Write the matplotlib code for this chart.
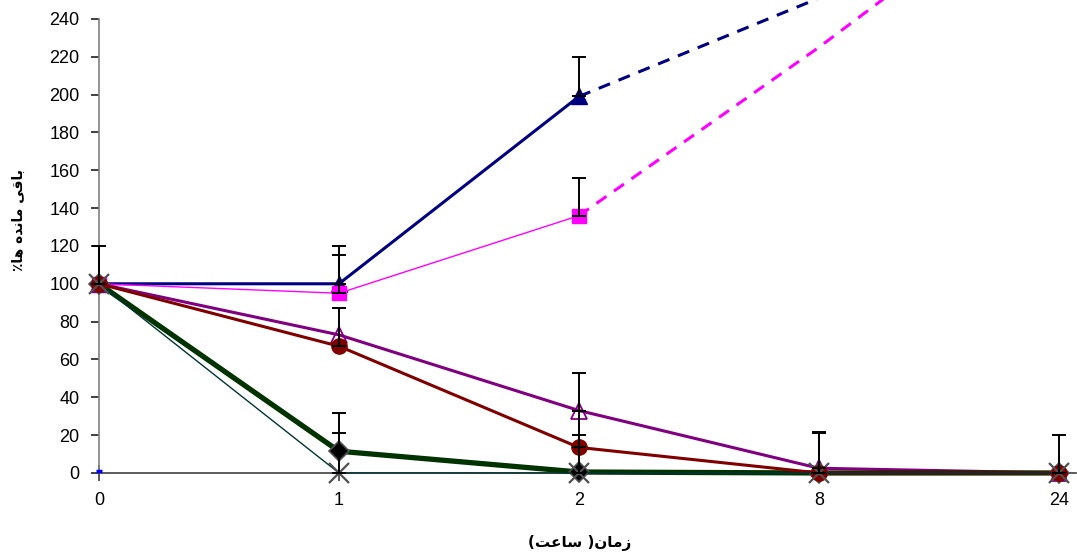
import numpy as np
import matplotlib.pyplot as plt

# Data (x categories are equally spaced)
hours = ["0", "1", "2", "8", "24"]
navy_vals = [100, 100, 199, np.nan, np.nan]
navy_err = [20, 20, 21, 0, 0]
navy_trend = [np.nan, np.nan, 199, 251, 330]
pink_vals = [100, 95, 136, np.nan, np.nan]
pink_err = [0, 20, 20, 0, 0]
pink_trend = [np.nan, np.nan, 136, 225, 320]
purple_vals = [100, 73, 33, 2.5, 0]
purple_err = [0, 0, 20, 19, 0]
red_vals = [100, 67, 13.5, 0, 0]
red_err = [0, 20, 19, 0, 0]
green_vals = [100, 11.5, 0.5, 0, 0]
green_err = [0, 20, 0, 21, 20]
teal_vals = [100, 0, 0, 0, 0]
teal_err = [0, 21, 20, 0, 0]
blue_vals = [1, np.nan, np.nan, np.nan, np.nan]

# pre-shaped (visual order) Persian labels
ylabel = "\u066a\ufe8e\ufeeb \ufee9\ufeaa\ufee7\ufe8e\ufee3 \ufef0\ufed7\ufe8e\ufe91"
xlabel = "(\ufe96\ufecb\ufe8e\ufeb3 )\ufee5\ufe8e\ufee3\ufeaf"

plt.rcParams['font.family'] = ['Liberation Sans', 'DejaVu Sans']

x = np.arange(len(hours))
fig = plt.figure(figsize=(10.77, 5.57), dpi=100)
ax = fig.add_axes([0.0696, 0.1203, 0.9292, 0.8797])

# series lines
ax.plot(x, navy_vals, color="#000080", lw=2.2, marker="^", ms=11, mfc="#000080", mec="#000080", zorder=3)
ax.plot(x, pink_vals, color="#FF00FF", lw=1.0, marker="s", ms=10.5, mfc="#FF00FF", mec="#FF00FF", zorder=3.5)
ax.plot(x, purple_vals, color="#800080", lw=2.2, marker="^", ms=11, mfc="none", mec="#800080", mew=1.3, zorder=4)
ax.plot(x, green_vals, color="#003300", lw=3.8, marker="D", ms=10.5, mfc="black", mec="#505050", mew=1.2, zorder=4.5)
ax.plot(x, red_vals, color="#800000", lw=2.2, marker="o", ms=11, mfc="#800000", mec="#800000", zorder=5)
ax.plot(x, teal_vals, color="#003333", lw=1.0, marker="x", ms=14, mec="#505050", mew=1.6, zorder=6)
ax.plot(x, navy_trend, color="#000080", lw=2.2, ls=(0, (4, 3)), zorder=4)
ax.plot(x, pink_trend, color="#FF00FF", lw=2.2, ls=(0, (4, 3)), zorder=4)
ax.plot(x, blue_vals, color="blue", lw=0, marker="_", ms=5, mew=2.5, zorder=6)

# upward error bars
for vals, err in [(navy_vals, navy_err), (pink_vals, pink_err), (purple_vals, purple_err),
                  (red_vals, red_err), (green_vals, green_err), (teal_vals, teal_err)]:
    v = np.array(vals, dtype=float)
    e = np.array(err, dtype=float)
    m = (e > 0) & ~np.isnan(v)
    ax.errorbar(x[m], v[m], yerr=[np.zeros(m.sum()), e[m]], fmt="none",
                ecolor="black", elinewidth=1.4, capsize=5, capthick=1.4, zorder=7)

ax.set_xlim(-0.1, 4.07)
ax.set_ylim(-9, 250)
ax.set_xticks(x)
ax.set_xticklabels(hours)
ax.set_yticks(np.arange(0, 241, 20))

for s in ["top", "right"]:
    ax.spines[s].set_visible(False)
ax.spines["left"].set_position(("data", 0))
ax.spines["left"].set_bounds(0, 240)
ax.spines["left"].set_color("#808080")
ax.spines["left"].set_linewidth(1.2)
ax.spines["bottom"].set_position(("data", 0))
ax.spines["bottom"].set_bounds(0, 4.07)
ax.spines["bottom"].set_color("#404040")
ax.spines["bottom"].set_linewidth(1.2)

ax.tick_params(axis="y", direction="out", length=6, width=1.2, color="#202020", labelsize=13, pad=8)
ax.tick_params(axis="x", direction="inout", length=12, width=1.2, color="#404040", labelsize=13, pad=8)

fig.text(0.018, 0.605, ylabel, rotation=90, ha="center", va="center",
         fontsize=10, fontweight="bold", family=["DejaVu Sans"])
fig.text(0.538, 0.025, xlabel, ha="center", va="center",
         fontsize=11, fontweight="bold", family=["DejaVu Sans"])

fig.savefig("out.png", dpi=100)
